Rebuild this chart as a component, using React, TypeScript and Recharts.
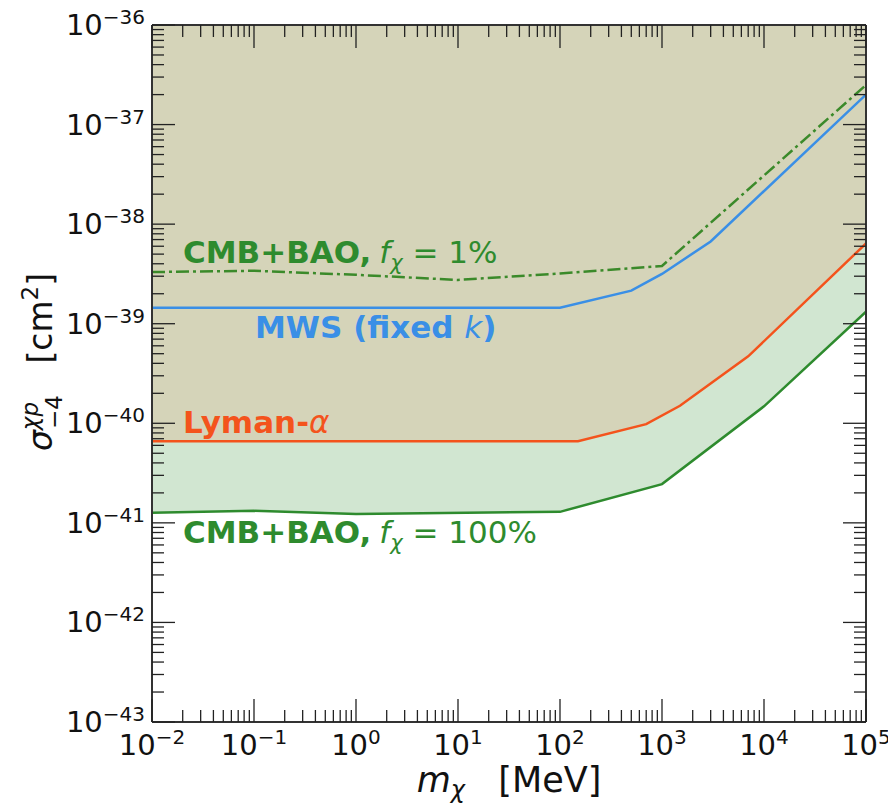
import React from 'react';
import { Area, ComposedChart, Line, XAxis, YAxis } from 'recharts';

const W = 896;
const H = 808;
const FONT = 'DejaVu Sans, sans-serif';

// m_chi in MeV, sigma in cm^2
const cmb1X = [0.01, 0.1, 1, 10, 100, 1000, 1e5];
const cmb1Y = [3.3e-39, 3.4e-39, 3.1e-39, 2.75e-39, 3.2e-39, 3.8e-39, 2.5e-37];
const mwsX = [0.01, 100, 500, 1000, 3000, 1e5];
const mwsY = [1.45e-39, 1.45e-39, 2.15e-39, 3.16e-39, 6.7e-39, 2.0e-37];
const lymanX = [0.01, 150, 700, 1500, 7000, 1e5];
const lymanY = [6.6e-41, 6.6e-41, 9.8e-41, 1.5e-40, 4.7e-40, 6.4e-39];
const cmb100X = [0.01, 0.1, 1, 100, 1000, 1e4, 1e5];
const cmb100Y = [1.26e-41, 1.32e-41, 1.23e-41, 1.29e-41, 2.45e-41, 1.48e-40, 1.32e-39];

const xDecades = [-2, -1, 0, 1, 2, 3, 4, 5];
const yDecades = [-43, -42, -41, -40, -39, -38, -37, -36];
const Y_TOP = 1e-36;

const logTicks = (decades: number[]) => {
  const out: number[] = [];
  decades.forEach((d, i) => {
    out.push(Math.pow(10, d));
    if (i < decades.length - 1) {
      for (let m = 2; m <= 9; m++) out.push(m * Math.pow(10, d));
    }
  });
  return out;
};
const xTicks = logTicks(xDecades);
const yTicks = logTicks(yDecades);

const rows = (xs: number[], ys: number[]) => xs.map((x, i) => ({ x, y: ys[i], top: Y_TOP }));
const cmb1Data = rows(cmb1X, cmb1Y);
const mwsData = rows(mwsX, mwsY);
const lymanData = rows(lymanX, lymanY);
const cmb100Data = rows(cmb100X, cmb100Y);

const isMajor = (v: number) => Math.abs(Math.log10(v) - Math.round(Math.log10(v))) < 1e-6;
const expLabel = (v: number) => {
  const e = Math.round(Math.log10(v));
  return e < 0 ? '\u2212' + Math.abs(e) : String(e);
};

const MAJ = 23;
const MIN = 12;
const tickStroke = { stroke: '#222', strokeWidth: 1.3 };

const BottomTick = (p: any) => {
  const major = isMajor(p.payload.value);
  return (
    <g>
      <line x1={p.x} x2={p.x} y1={p.y} y2={p.y - (major ? MAJ : MIN)} {...tickStroke} />
      {major && (
        <text x={p.x} y={p.y + 33} textAnchor="middle" fontSize={29} fill="#111" fontFamily={FONT}>
          10<tspan dy={-11} fontSize={20}>{expLabel(p.payload.value)}</tspan>
        </text>
      )}
    </g>
  );
};

const TopTick = (p: any) => {
  const major = isMajor(p.payload.value);
  return <line x1={p.x} x2={p.x} y1={p.y} y2={p.y + (major ? MAJ : MIN)} {...tickStroke} />;
};

const LeftTick = (p: any) => {
  const major = isMajor(p.payload.value);
  return (
    <g>
      <line x1={p.x} x2={p.x + (major ? MAJ : MIN)} y1={p.y} y2={p.y} {...tickStroke} />
      {major && (
        <text x={p.x - 7} y={p.y + 10} textAnchor="end" fontSize={29} fill="#111" fontFamily={FONT}>
          10<tspan dy={-11} fontSize={20}>{expLabel(p.payload.value)}</tspan>
        </text>
      )}
    </g>
  );
};

const RightTick = (p: any) => {
  const major = isMajor(p.payload.value);
  return <line x1={p.x} x2={p.x - (major ? MAJ : MIN)} y1={p.y} y2={p.y} {...tickStroke} />;
};

const frame = { stroke: '#333', strokeWidth: 2 };
const GREEN = '#2e8b2e';
const BLUE = '#3a8fe6';
const ORANGE = '#f4531c';

export default function App() {
  return (
    <div style={{ position: 'relative', width: W, height: H, margin: '-8px 0 0 -8px' }}>
      <ComposedChart width={W} height={H} margin={{ top: 21, right: 26, bottom: 46, left: 92 }}>
        <XAxis xAxisId="bottom" dataKey="x" type="number" scale="log" domain={[1e-2, 1e5]} allowDataOverflow
          ticks={xTicks} interval={0} tick={(p: any) => <BottomTick {...p} />} tickLine={false}
          tickSize={0} tickMargin={0} axisLine={frame} height={40} />
        <XAxis xAxisId="top" orientation="top" dataKey="x" type="number" scale="log" domain={[1e-2, 1e5]} allowDataOverflow
          ticks={xTicks} interval={0} tick={(p: any) => <TopTick {...p} />} tickLine={false}
          tickSize={0} tickMargin={0} axisLine={frame} height={4} />
        <YAxis yAxisId="left" type="number" scale="log" domain={[1e-43, 1e-36]} allowDataOverflow
          ticks={yTicks} interval={0} tick={(p: any) => <LeftTick {...p} />} tickLine={false}
          tickSize={0} tickMargin={0} axisLine={frame} width={60} />
        <YAxis yAxisId="right" orientation="right" type="number" scale="log" domain={[1e-43, 1e-36]} allowDataOverflow
          ticks={yTicks} interval={0} tick={(p: any) => <RightTick {...p} />} tickLine={false}
          tickSize={0} tickMargin={0} axisLine={frame} width={4} />

        <Area xAxisId="bottom" yAxisId="left" data={cmb100Data} dataKey={(d: any) => [d.y, d.top]}
          type="linear" stroke="none" fill="#d1e6d1" fillOpacity={1} isAnimationActive={false} />
        <Area xAxisId="bottom" yAxisId="left" data={lymanData} dataKey={(d: any) => [d.y, d.top]}
          type="linear" stroke="none" fill="#d5d4b9" fillOpacity={1} isAnimationActive={false} />

        <Line xAxisId="bottom" yAxisId="left" data={cmb100Data} dataKey="y" type="linear" stroke={GREEN}
          strokeWidth={2.5} dot={false} isAnimationActive={false} />
        <Line xAxisId="bottom" yAxisId="left" data={lymanData} dataKey="y" type="linear" stroke={ORANGE}
          strokeWidth={2.5} dot={false} isAnimationActive={false} />
        <Line xAxisId="bottom" yAxisId="left" data={mwsData} dataKey="y" type="linear" stroke={BLUE}
          strokeWidth={2.5} dot={false} isAnimationActive={false} />
        <Line xAxisId="bottom" yAxisId="left" data={cmb1Data} dataKey="y" type="linear" stroke="#3b8a2a"
          strokeWidth={2.5} strokeDasharray="13 4 3 4" dot={false} isAnimationActive={false} />
      </ComposedChart>

      <svg width={W} height={H} style={{ position: 'absolute', left: 0, top: 0, pointerEvents: 'none' }}
        fontFamily={FONT}>
        <text x={183} y={263} fontSize={31} fill={GREEN}>
          <tspan fontWeight="bold">CMB+BAO,</tspan>
          <tspan dx={8} fontStyle="italic">f</tspan>
          <tspan fontStyle="italic" fontSize={21} dy={7}>χ</tspan>
          <tspan dy={-7}> = 1%</tspan>
        </text>
        <text x={255} y={338} fontSize={31} fill={BLUE}>
          <tspan fontWeight="bold">MWS (fixed </tspan>
          <tspan fontStyle="italic">k</tspan>
          <tspan fontWeight="bold">)</tspan>
        </text>
        <text x={183} y={433} fontSize={31} fill={ORANGE}>
          <tspan fontWeight="bold">Lyman-</tspan>
          <tspan fontStyle="italic">α</tspan>
        </text>
        <text x={183} y={543} fontSize={31} fill={GREEN}>
          <tspan fontWeight="bold">CMB+BAO,</tspan>
          <tspan dx={8} fontStyle="italic">f</tspan>
          <tspan fontStyle="italic" fontSize={21} dy={7}>χ</tspan>
          <tspan dy={-7}> = 100%</tspan>
        </text>

        <text x={509} y={792} textAnchor="middle" fontSize={35} fill="#111">
          <tspan fontStyle="italic">m</tspan>
          <tspan fontStyle="italic" fontSize={24} dy={6}>χ</tspan>
          <tspan dy={-6}>{'\u00a0\u00a0\u00a0'}[MeV]</tspan>
        </text>

        <text transform="translate(52,362) rotate(-90)" textAnchor="middle" fontSize={33} fill="#111">
          <tspan fontStyle="italic">σ</tspan>
          <tspan fontStyle="italic" fontSize={23} dy={-14}>χp</tspan>
          <tspan fontSize={23} dx={-27} dy={24}>−4</tspan>
          <tspan dy={-10}>{'\u00a0\u00a0\u00a0'}[cm</tspan>
          <tspan fontSize={23} dy={-14}>2</tspan>
          <tspan dy={14}>]</tspan>
        </text>
      </svg>
    </div>
  );
}
